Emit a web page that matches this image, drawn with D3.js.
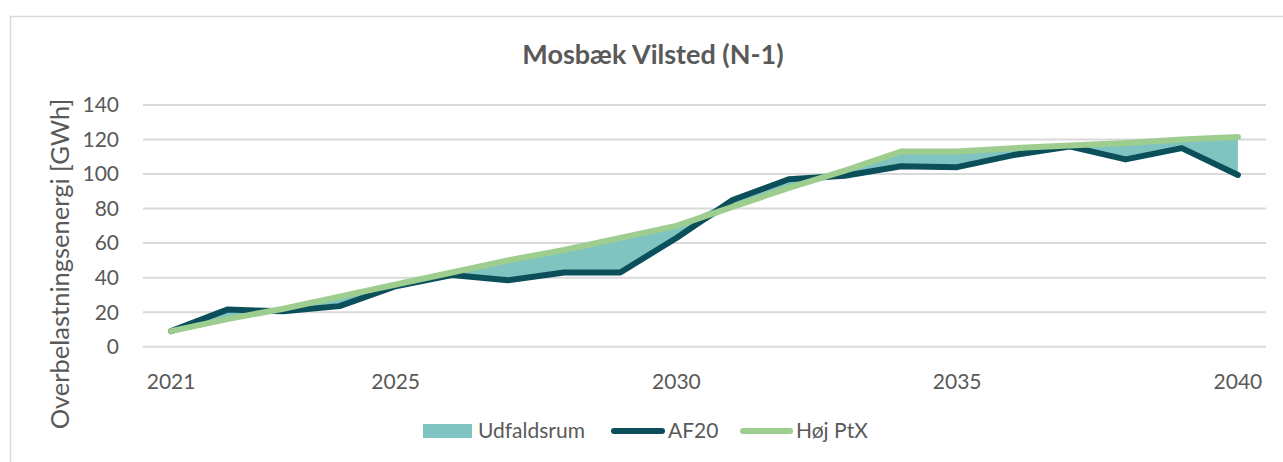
<!DOCTYPE html>
<html>
  <script src="https://d3js.org/d3.v7.min.js" type="text/JavaScript"></script>
  <style>
    body { margin: 0; background: #fff; }
    text { font-family: Lato, "Open Sans", sans-serif; fill: #595959; }
  </style>
  <body>
    <svg></svg>
    <script>
// data
var years = [2021, 2022, 2023, 2024, 2025, 2026, 2027, 2028, 2029, 2030,
             2031, 2032, 2033, 2034, 2035, 2036, 2037, 2038, 2039, 2040];
var af20 = [9, 21.5, 20.5, 23.5, 35, 41.5, 38.5, 43, 43, 63,
            85, 97, 99, 104.5, 104, 111, 116, 108.5, 115, 99.5];
var hojPtx = [9, 16, 22, 29, 36, 43, 50, 56, 63, 70,
              81, 92, 102, 113, 113, 115, 116.5, 118, 120, 121.5];
var yTicks = [0, 20, 40, 60, 80, 100, 120, 140];
var xLabels = [2021, 2025, 2030, 2035, 2040];
var seriesNames = ['Udfaldsrum', 'AF20', 'Høj PtX'];

var W = 1283, H = 462;
var teal = '#80c4c2', dark = '#0b4f5b', green = '#9dcd8f', grid = '#d9d9d9';

var svg = d3.select('svg').attr('width', W).attr('height', H);

// chart border
svg.append('rect')
  .attr('x', 10.5).attr('y', 16.5)
  .attr('width', W + 10).attr('height', H + 10)
  .attr('fill', 'none').attr('stroke', grid).attr('stroke-width', 1.5);

var x = d3.scaleBand().domain(years).range([143, 1266]).padding(0);
var cx = d => x(d) + x.bandwidth() / 2;
var y = d3.scaleLinear().domain([0, 140]).range([346.7, 105]);

// gridlines
svg.append('g').selectAll('line')
  .data(yTicks)
  .enter()
  .append('line')
    .attr('x1', 143).attr('x2', 1266)
    .attr('y1', d => y(d)).attr('y2', d => y(d))
    .style('stroke', grid)
    .style('stroke-width', '2px');

// y axis labels
svg.append('g').selectAll('text')
  .data(yTicks)
  .enter()
  .append('text')
    .attr('x', 119)
    .attr('y', d => y(d))
    .attr('dy', '0.35em')
    .attr('text-anchor', 'end')
    .style('font-size', '21px')
    .text(d => d);

// x axis labels
svg.append('g').selectAll('text')
  .data(xLabels)
  .enter()
  .append('text')
    .attr('x', d => cx(d))
    .attr('y', 389)
    .attr('text-anchor', 'middle')
    .style('font-size', '21px')
    .text(d => d);

// band between the scenarios
var rows = years.map((yr, i) => ({
  yr: yr,
  lo: Math.min(af20[i], hojPtx[i]),
  hi: Math.max(af20[i], hojPtx[i])
}));

svg.append('path')
  .datum(rows)
  .attr('d', d3.area().x(d => cx(d.yr)).y0(d => y(d.lo)).y1(d => y(d.hi)))
  .style('fill', teal);

var line = d3.line().x((d, i) => cx(years[i])).y(d => y(d));

svg.append('path')
  .datum(af20)
  .attr('d', line)
  .style('fill', 'none')
  .style('stroke', dark)
  .style('stroke-width', '6px')
  .style('stroke-linejoin', 'round')
  .style('stroke-linecap', 'round');

svg.append('path')
  .datum(hojPtx)
  .attr('d', line)
  .style('fill', 'none')
  .style('stroke', green)
  .style('stroke-width', '6px')
  .style('stroke-linejoin', 'round')
  .style('stroke-linecap', 'round');

// title
svg.append('text')
  .attr('x', 653)
  .attr('y', 64)
  .attr('text-anchor', 'middle')
  .style('font-size', '27px')
  .style('font-weight', 'bold')
  .text('Mosbæk Vilsted (N-1)');

// y axis title
svg.append('text')
  .attr('transform', 'translate(68.5,264) rotate(-90)')
  .attr('text-anchor', 'middle')
  .style('font-size', '25.5px')
  .text('Overbelastningsenergi [GWh]');

// legend
var lg = svg.append('g');
lg.append('rect')
  .attr('x', 423).attr('y', 424).attr('width', 49).attr('height', 14)
  .style('fill', teal);
lg.append('line')
  .attr('x1', 614).attr('x2', 662).attr('y1', 431).attr('y2', 431)
  .style('stroke', dark).style('stroke-width', '6px').style('stroke-linecap', 'round');
lg.append('line')
  .attr('x1', 743).attr('x2', 790).attr('y1', 431).attr('y2', 431)
  .style('stroke', green).style('stroke-width', '6px').style('stroke-linecap', 'round');
lg.selectAll('text')
  .data(seriesNames)
  .enter()
  .append('text')
    .attr('x', (d, i) => [478, 668, 796][i])
    .attr('y', 431)
    .attr('dy', '0.35em')
    .style('font-size', '21px')
    .text(d => d);
    </script>
  </body>
</html>
